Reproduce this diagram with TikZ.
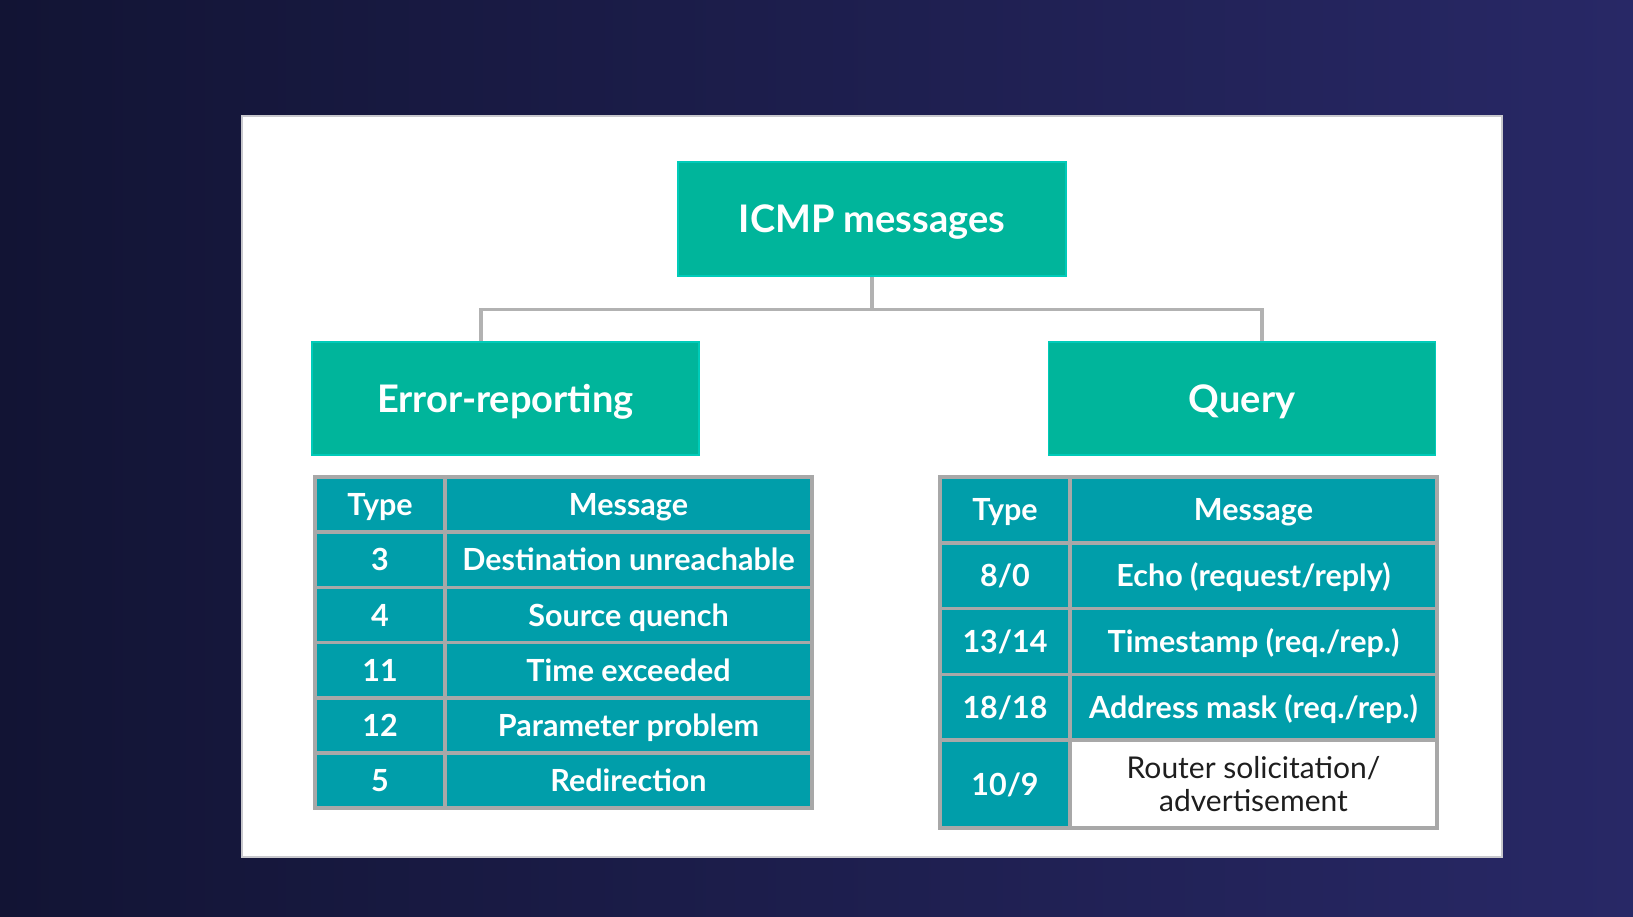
\documentclass[tikz,border=0pt]{standalone}
\usepackage{fontspec}
\setmainfont{Lato}
\definecolor{bgL}{RGB}{18,20,52}
\definecolor{bgR}{RGB}{40,40,102}
\definecolor{headteal}{RGB}{0,181,155}
\definecolor{cellteal}{RGB}{0,158,170}
\definecolor{gridgray}{RGB}{168,168,168}
\definecolor{conngray}{RGB}{178,178,178}
\definecolor{panelgray}{RGB}{200,200,205}
\definecolor{darktext}{RGB}{30,30,30}
\begin{document}
\begin{tikzpicture}[x=1pt,y=-1pt,
  headbox/.style={rectangle, fill=headteal, draw=headteal!70!cyan, line width=1.2pt, inner sep=0pt,
    minimum width=387pt, minimum height=113pt, text=white, text height=27.4pt, text depth=0pt,
    font=\fontsize{38}{44}\selectfont\bfseries},
  cell/.style={rectangle, fill=cellteal, draw=gridgray, line width=3.5pt, inner sep=0pt,
    text=white, text height=22pt, text depth=0pt,
    font=\fontsize{30.5}{34}\selectfont\bfseries, align=center},
  typecell/.style={cell, minimum width=130pt},
  msgcell/.style={cell, minimum width=367pt},
  plaincell/.style={cell, fill=white, text=darktext, text height={}, text depth={},
    font=\fontsize{30}{33}\selectfont},
  conn/.style={draw=conngray, line width=3.5pt}
]
\useasboundingbox (0,0) rectangle (1633,916);
\shade[left color=bgL, right color=bgR] (0,0) rectangle (1633,916);
\fill[white, draw=panelgray, line width=2pt] (242,116) rectangle (1502,857);

% top boxes
\node[headbox, minimum width=388pt, minimum height=114pt] (icmp) at (872,219) {ICMP messages};
\node[headbox] (err) at (505.5,398.5) {Error-reporting};
\node[headbox] (qry) at (1242,398.5) {Query};

% connectors
\draw[conn] (icmp.south) -- ++(0,33) coordinate (jn);
\draw[conn] ([xshift=-24.5pt]err.north) |- (jn) -| ([xshift=20pt]qry.north);

% left table
\foreach \i/\t/\m in {0/Type/Message, 1/3/Destination unreachable, 2/4/Source quench,
  3/11/Time exceeded, 4/12/Parameter problem, 5/5/Redirection}{
  \node[typecell, minimum height=55.2pt] (lt\i) at (380, 477+27.6+55.2*\i) {\t};
  \node[msgcell, minimum height=55.2pt] (lm\i) at (628.5, 477+27.6+55.2*\i) {\m};
}

% right table
\foreach \i/\t/\m in {0/{Type}/{Message}, 1/{8/0}/{Echo (request/reply)}, 2/{13/14}/{Timestamp (req./rep.)},
  3/{18/18}/{Address mask (req./rep.)}}{
  \node[typecell, minimum height=65.75pt] (rt\i) at (1005, 477+32.875+65.75*\i) {\t};
  \node[msgcell, minimum height=65.75pt] (rm\i) at (1253.5, 477+32.875+65.75*\i) {\m};
}
\node[typecell, minimum height=88pt] (rt4) at (1005, 784) {10/9};
\node[msgcell, plaincell, minimum height=88pt] (rm4) at (1253.5, 784) {Router solicitation/\\advertisement};
\end{tikzpicture}
\end{document}
